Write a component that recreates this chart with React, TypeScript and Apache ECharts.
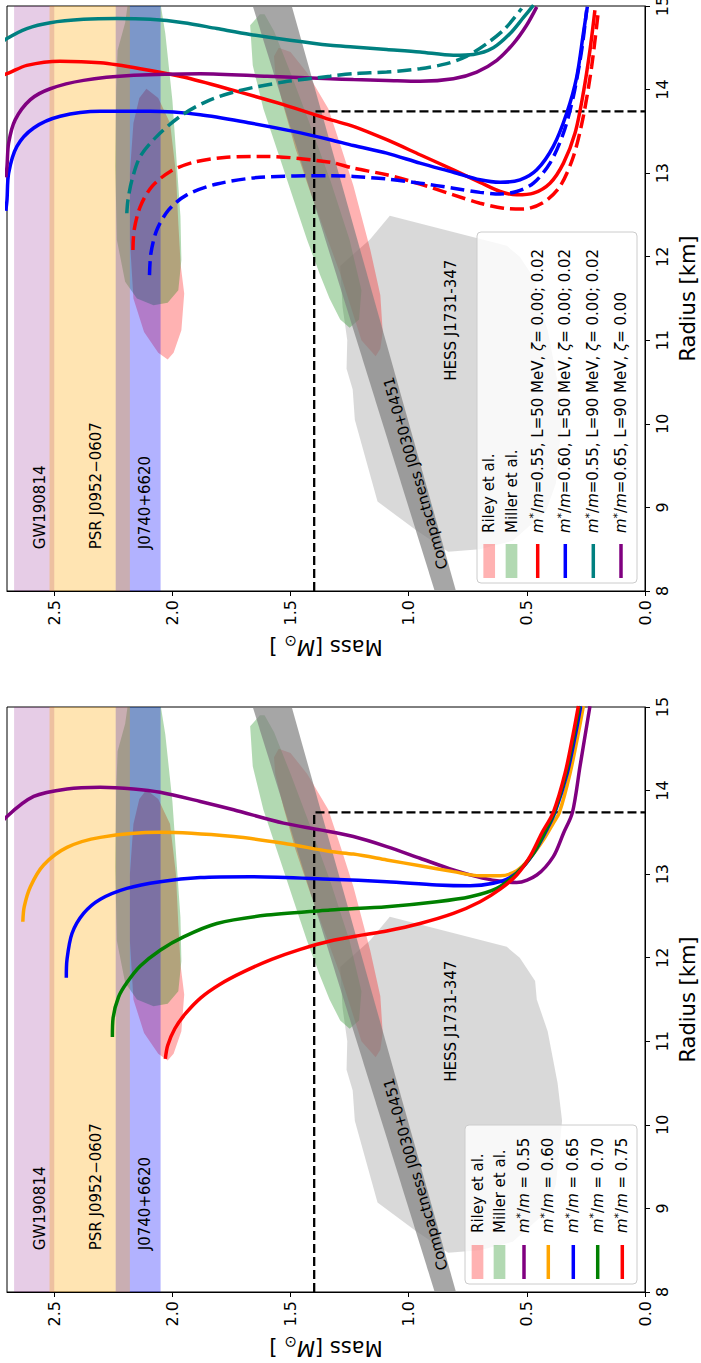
import { useEffect, useRef } from 'react';
import * as echarts from 'echarts';

const FONT = 'DejaVu Sans';

// ---------- data: every pair is [mass (M_sun), radius (km)] ----------

const massRange = [0, 2.7];
const radiusRange = [8, 15];

// Observational mass bands (M_sun)
const bandGW190814 = [2.5, 2.67];
const bandJ0952 = [2.18, 2.52];
const bandJ0740 = [2.05, 2.24];

// Compactness band of PSR J0030+0451
const compactnessJ0030 = [[0.8, 8], [1.495, 15], [1.66, 15], [0.89, 8]];

// HESS J1731-347 credible region
const hessJ1731 = [
  [1.08, 12.49], [0.585, 12.13], [0.53, 12.0], [0.465, 11.72], [0.458, 11.5], [0.412, 11.12],
  [0.37, 10.5], [0.351, 10.05], [0.377, 9.29], [0.42, 8.95], [0.56, 8.6], [0.7, 8.5],
  [0.833, 8.47], [0.974, 8.74], [1.132, 9.07], [1.228, 10.05], [1.237, 10.41], [1.263, 10.66],
  [1.26, 11.0], [1.28, 11.4], [1.29, 11.89], [1.163, 12.21],
];

// NICER contours, PSR J0030+0451
const rileyJ0030 = [
  [1.14, 10.81], [1.2, 11.0], [1.245, 11.4], [1.29, 11.8], [1.355, 12.3], [1.42, 12.8],
  [1.48, 13.3], [1.53, 13.8], [1.565, 14.2], [1.57, 14.4], [1.55, 14.5], [1.5, 14.45],
  [1.43, 14.2], [1.34, 13.77], [1.285, 13.3], [1.234, 12.85], [1.163, 12.09], [1.12, 11.54],
  [1.11, 11.1], [1.12, 10.9],
];
const millerJ0030 = [
  [1.63, 14.9], [1.671, 14.77], [1.66, 14.29], [1.615, 13.77], [1.544, 13.17], [1.488, 12.69],
  [1.431, 12.21], [1.375, 11.78], [1.335, 11.5], [1.29, 11.25], [1.25, 11.15], [1.21, 11.25],
  [1.2, 11.6], [1.25, 12.2], [1.33, 12.9], [1.42, 13.6], [1.5, 14.2], [1.57, 14.7], [1.61, 14.9],
];

// NICER contours, PSR J0740+6620
const rileyJ0740 = [
  [2.11, 14.01], [2.06, 13.9], [2.01, 13.6], [1.985, 13.0], [1.975, 12.4], [1.965, 11.9],
  [1.95, 11.56], [1.962, 11.12], [1.995, 10.85], [2.02, 10.77], [2.06, 10.85], [2.12, 11.1],
  [2.165, 11.5], [2.18, 12.2], [2.18, 13.0], [2.165, 13.6], [2.14, 13.9],
];
const millerJ0740 = [
  [2.06, 15.2], [2.03, 14.67], [2.0, 13.87], [1.966, 12.48], [1.962, 11.96], [1.975, 11.6],
  [2.02, 11.45], [2.08, 11.42], [2.15, 11.5], [2.2, 11.7], [2.235, 12.2], [2.242, 13.08],
  [2.238, 14.0], [2.232, 14.47], [2.2, 14.8], [2.18, 15.2],
];

// Reference lines: M = 1.4 M_sun and R = 13.74 km
const refLines = [[1.4, 8], [1.4, 13.74], [0, 13.74]];

// Upper panel: L and zeta variations
const l50m055z000 = [
  [2.78, 14.12], [2.7, 14.19], [2.616, 14.29], [2.475, 14.34], [2.305, 14.32], [2.136, 14.25],
  [1.953, 14.15], [1.741, 13.99], [1.53, 13.82], [1.332, 13.64], [1.234, 13.56], [1.093, 13.4],
  [0.952, 13.22], [0.811, 13.04], [0.698, 12.89], [0.613, 12.78], [0.543, 12.74], [0.472, 12.76],
  [0.402, 12.88], [0.345, 13.12], [0.296, 13.48], [0.261, 13.96], [0.233, 14.47], [0.212, 14.95],
];
const l50m055z002 = [
  [2.167, 12.08], [2.162, 12.32], [2.136, 12.6], [2.087, 12.84], [2.009, 13.02], [1.911, 13.13],
  [1.77, 13.19], [1.6, 13.2], [1.332, 13.13], [1.234, 13.06], [1.093, 12.98], [0.952, 12.87],
  [0.811, 12.74], [0.698, 12.64], [0.599, 12.58], [0.515, 12.57], [0.43, 12.65], [0.36, 12.84],
  [0.303, 13.2], [0.261, 13.68], [0.226, 14.27], [0.197, 14.95],
];
const l50m060z000 = [
  [2.705, 12.55], [2.7, 12.68], [2.693, 13.0], [2.658, 13.32], [2.587, 13.54], [2.475, 13.68],
  [2.305, 13.74], [2.094, 13.74], [1.882, 13.7], [1.671, 13.6], [1.488, 13.5], [1.332, 13.4],
  [1.234, 13.33], [1.093, 13.24], [0.952, 13.12], [0.811, 13.01], [0.698, 12.92], [0.613, 12.89],
  [0.529, 12.92], [0.458, 13.04], [0.388, 13.32], [0.331, 13.72], [0.289, 14.15], [0.261, 14.67],
  [0.244, 14.99],
];
const l50m060z002 = [
  [2.097, 11.78], [2.091, 12.04], [2.066, 12.32], [2.016, 12.56], [1.939, 12.74], [1.812, 12.87],
  [1.629, 12.95], [1.332, 12.97], [1.234, 12.96], [1.093, 12.93], [0.952, 12.88], [0.811, 12.82],
  [0.698, 12.77], [0.613, 12.75], [0.543, 12.78], [0.472, 12.88], [0.402, 13.12], [0.345, 13.48],
  [0.303, 13.92], [0.268, 14.47], [0.247, 14.95],
];
const l90m055z000 = [
  [2.78, 14.45], [2.7, 14.61], [2.616, 14.73], [2.517, 14.8], [2.376, 14.84], [2.235, 14.85],
  [2.094, 14.84], [1.953, 14.8], [1.812, 14.73], [1.671, 14.66], [1.502, 14.59], [1.332, 14.53],
  [1.234, 14.51], [1.093, 14.48], [0.952, 14.45], [0.811, 14.41], [0.726, 14.42], [0.642, 14.5],
  [0.571, 14.67], [0.515, 14.86], [0.472, 15.01],
];
const l90m055z002 = [
  [2.193, 12.52], [2.188, 12.68], [2.171, 12.92], [2.136, 13.2], [2.066, 13.44], [1.967, 13.68],
  [1.854, 13.86], [1.713, 13.99], [1.53, 14.09], [1.332, 14.16], [1.234, 14.19], [1.093, 14.21],
  [0.952, 14.25], [0.839, 14.31], [0.754, 14.4], [0.67, 14.55], [0.592, 14.73], [0.522, 14.97],
];
const l90m065z000 = [
  [2.705, 12.95], [2.7, 13.08], [2.693, 13.36], [2.665, 13.64], [2.601, 13.88], [2.517, 14.01],
  [2.376, 14.11], [2.164, 14.17], [1.882, 14.19], [1.6, 14.16], [1.332, 14.13], [1.234, 14.12],
  [1.093, 14.11], [0.952, 14.1], [0.811, 14.13], [0.712, 14.21], [0.627, 14.35], [0.557, 14.55],
  [0.501, 14.77], [0.458, 14.99],
];

// Lower panel: effective mass variations
const effMass055 = [
  [2.78, 13.42], [2.7, 13.69], [2.587, 13.93], [2.446, 14.02], [2.305, 14.04], [2.164, 14.02],
  [2.052, 13.98], [1.882, 13.87], [1.741, 13.77], [1.53, 13.61], [1.375, 13.53], [1.234, 13.45],
  [1.093, 13.33], [0.952, 13.19], [0.811, 13.05], [0.712, 12.97], [0.627, 12.92], [0.543, 12.9],
  [0.458, 12.99], [0.388, 13.21], [0.345, 13.49], [0.307, 13.74], [0.275, 14.29], [0.247, 14.77],
  [0.233, 15.01],
];
const effMass060 = [
  [2.633, 12.43], [2.627, 12.61], [2.601, 12.85], [2.545, 13.11], [2.446, 13.32], [2.305, 13.44],
  [2.052, 13.5], [1.741, 13.45], [1.53, 13.37], [1.332, 13.27], [1.234, 13.24], [1.093, 13.17],
  [0.952, 13.1], [0.811, 13.03], [0.698, 12.98], [0.613, 12.98], [0.543, 13.04], [0.487, 13.19],
  [0.43, 13.41], [0.388, 13.61], [0.362, 13.74], [0.317, 14.21], [0.282, 14.69], [0.261, 15.01],
];
const effMass065 = [
  [2.449, 11.76], [2.446, 11.98], [2.425, 12.29], [2.376, 12.53], [2.305, 12.7], [2.193, 12.83],
  [2.052, 12.91], [1.882, 12.96], [1.671, 12.97], [1.332, 12.94], [1.093, 12.91], [0.881, 12.87],
  [0.74, 12.86], [0.642, 12.89], [0.571, 12.96], [0.515, 13.09], [0.458, 13.31], [0.416, 13.53],
  [0.381, 13.74], [0.329, 14.21], [0.293, 14.69], [0.272, 15.01],
];
const effMass070 = [
  [2.254, 11.05], [2.251, 11.28], [2.228, 11.53], [2.193, 11.7], [2.136, 11.9], [2.052, 12.09],
  [1.953, 12.25], [1.812, 12.41], [1.6, 12.51], [1.332, 12.57], [1.093, 12.61], [0.881, 12.67],
  [0.74, 12.73], [0.627, 12.83], [0.543, 13.01], [0.472, 13.25], [0.423, 13.51], [0.384, 13.74],
  [0.334, 14.21], [0.299, 14.69], [0.278, 15.01],
];
const effMass075 = [
  [2.03, 10.79], [2.02, 10.95], [1.99, 11.15], [1.945, 11.33], [1.88, 11.52], [1.8, 11.68],
  [1.7, 11.83], [1.58, 11.98], [1.459, 12.1], [1.332, 12.2], [1.2, 12.27], [1.093, 12.32],
  [0.952, 12.41], [0.811, 12.53], [0.698, 12.67], [0.613, 12.82], [0.543, 12.99], [0.487, 13.21],
  [0.437, 13.49], [0.388, 13.74], [0.338, 14.21], [0.303, 14.69], [0.282, 15.01],
];

// Annotations: text with its [mass, radius] anchor
const bandLabelTexts = ['GW190814', 'PSR J0952\u22120607', 'J0740+6620'];
const bandLabelAnchors = [[2.561, 8.5], [2.325, 8.5], [2.114, 8.5]];
const hessLabelText = 'HESS J1731-347';
const hessLabelAnchor = [0.82, 11.24];
const compactLabelText = 'Compactness J0030+0451';
const compactLabelAnchor = [0.97, 9.41];

// Legend texts
const legendUpperTexts = [
  '{t|Riley et al.}',
  '{t|Miller et al.}',
  '{it|m}{sup|*}{t|/}{it|m}{t|=0.55, L=50 MeV, }{it|\u03b6}{t|= 0.00; 0.02}',
  '{it|m}{sup|*}{t|/}{it|m}{t|=0.60, L=50 MeV, }{it|\u03b6}{t|= 0.00; 0.02}',
  '{it|m}{sup|*}{t|/}{it|m}{t|=0.55, L=90 MeV, }{it|\u03b6}{t|= 0.00; 0.02}',
  '{it|m}{sup|*}{t|/}{it|m}{t|=0.65, L=90 MeV, }{it|\u03b6}{t|= 0.00}',
];
const legendLowerTexts = [
  '{t|Riley et al.}',
  '{t|Miller et al.}',
  '{it|m}{sup|*}{t|/}{it|m}{t| = 0.55}',
  '{it|m}{sup|*}{t|/}{it|m}{t| = 0.60}',
  '{it|m}{sup|*}{t|/}{it|m}{t| = 0.65}',
  '{it|m}{sup|*}{t|/}{it|m}{t| = 0.70}',
  '{it|m}{sup|*}{t|/}{it|m}{t| = 0.75}',
];

// ---------- styling ----------

const RILEY = 'rgba(255,0,0,0.3)';
const MILLER = 'rgba(0,128,0,0.3)';
const C = {
  red: '#ff0000', blue: '#0000ff', teal: '#008080', purple: '#800080', orange: '#ffa500', green: '#008000',
};

const upperCurves = [
  { data: l50m055z000, color: C.red, dashed: false },
  { data: l50m060z000, color: C.blue, dashed: false },
  { data: l90m055z000, color: C.teal, dashed: false },
  { data: l90m065z000, color: C.purple, dashed: false },
  { data: l50m055z002, color: C.red, dashed: true },
  { data: l50m060z002, color: C.blue, dashed: true },
  { data: l90m055z002, color: C.teal, dashed: true },
];
const lowerCurves = [
  { data: effMass055, color: C.purple, dashed: false },
  { data: effMass060, color: C.orange, dashed: false },
  { data: effMass065, color: C.blue, dashed: false },
  { data: effMass070, color: C.green, dashed: false },
  { data: effMass075, color: C.red, dashed: false },
];

const legendUpperHandles = [
  { patch: true, color: RILEY }, { patch: true, color: MILLER },
  { patch: false, color: C.red }, { patch: false, color: C.blue },
  { patch: false, color: C.teal }, { patch: false, color: C.purple },
];
const legendLowerHandles = [
  { patch: true, color: RILEY }, { patch: true, color: MILLER },
  { patch: false, color: C.purple }, { patch: false, color: C.orange },
  { patch: false, color: C.blue }, { patch: false, color: C.green },
  { patch: false, color: C.red },
];

const GRIDS = [
  { left: 7, right: 56, top: 6, height: 585 },
  { left: 7, right: 56, top: 707, height: 585 },
];

const LABEL_SIZE = 15;
const TICK_SIZE = 16;
const NAME_SIZE = 21;

const cssFont = (size: number, italic = false) => `${italic ? 'italic ' : ''}${size}px "${FONT}"`;

const tok = (size: number, extra: any = {}) => ({
  fontSize: size, fontFamily: FONT, color: '#000', ...extra,
});

const gtok = (size: number, italic: boolean, extra: any = {}) => ({
  font: cssFont(size, italic), fontSize: size, fontFamily: FONT,
  fontStyle: italic ? 'italic' : 'normal', fill: '#000', ...extra,
});
const legendRich = {
  t: gtok(LABEL_SIZE, false, { lineHeight: 19 }),
  it: gtok(LABEL_SIZE, true, { lineHeight: 19 }),
  sup: gtok(11, false, { verticalAlign: 'top' }),
};

function polygonSeries(gi: number, pts: number[][], fill: string) {
  return {
    type: 'custom',
    xAxisIndex: gi,
    yAxisIndex: gi,
    silent: true,
    clip: true,
    data: [[1, 10]],
    renderItem: (_params: any, api: any) => ({
      type: 'polygon',
      shape: { points: pts.map((p) => api.coord(p)) },
      style: { fill, stroke: null },
    }),
  };
}

function bandSeries(gi: number, range: number[], fill: string) {
  const pts = [
    [range[0], radiusRange[0]], [range[1], radiusRange[0]],
    [range[1], radiusRange[1]], [range[0], radiusRange[1]],
  ];
  return polygonSeries(gi, pts, fill);
}

function curveSeries(gi: number, c: { data: number[][]; color: string; dashed: boolean }) {
  return {
    type: 'line',
    xAxisIndex: gi,
    yAxisIndex: gi,
    data: c.data,
    symbol: 'none',
    showSymbol: false,
    smooth: 0.3,
    clip: true,
    silent: true,
    lineStyle: { color: c.color, width: 3.5, type: c.dashed ? [14, 6] : 'solid', cap: 'butt' },
  };
}

function panelSeries(gi: number, curves: any[]) {
  return [
    polygonSeries(gi, hessJ1731, 'rgba(128,128,128,0.3)'),
    polygonSeries(gi, rileyJ0030, RILEY),
    polygonSeries(gi, rileyJ0740, RILEY),
    polygonSeries(gi, millerJ0030, MILLER),
    polygonSeries(gi, millerJ0740, MILLER),
    bandSeries(gi, bandJ0740, 'rgba(0,0,255,0.3)'),
    bandSeries(gi, bandGW190814, 'rgba(128,0,128,0.2)'),
    bandSeries(gi, bandJ0952, 'rgba(255,165,0,0.3)'),
    polygonSeries(gi, compactnessJ0030, 'rgba(128,128,128,0.7)'),
    {
      type: 'line', xAxisIndex: gi, yAxisIndex: gi, data: refLines, symbol: 'none', silent: true, clip: true,
      lineStyle: { color: '#000', width: 2.3, type: [9, 4] },
    },
    ...curves.map((c) => curveSeries(gi, c)),
  ];
}

function massAxis(gi: number) {
  return {
    type: 'value', gridIndex: gi, min: massRange[0], max: massRange[1], interval: 0.5, inverse: true,
    position: 'bottom',
    axisLine: { show: true, onZero: false, lineStyle: { color: '#000', width: 1 } },
    axisTick: { show: true, length: 5, lineStyle: { color: '#000', width: 1 } },
    axisLabel: {
      show: true, rotate: 90, margin: 9, fontSize: TICK_SIZE, fontFamily: FONT, color: '#000',
      showMaxLabel: false, formatter: (v: number) => v.toFixed(1),
    },
    splitLine: { show: false },
    name: '{t|Mass [}{it|M}{sub|\u2299}{t| ]}',
    nameLocation: 'middle', nameGap: 42, nameRotate: 180,
    nameTextStyle: {
      fontFamily: FONT, color: '#000', fontSize: NAME_SIZE,
      rich: {
        t: tok(NAME_SIZE, { lineHeight: 28 }),
        it: tok(NAME_SIZE, { fontStyle: 'italic', lineHeight: 28 }),
        sub: tok(15, { verticalAlign: 'bottom' }),
      },
    },
  };
}

function radiusAxis(gi: number) {
  return {
    type: 'value', gridIndex: gi, min: radiusRange[0], max: radiusRange[1], interval: 1, position: 'right',
    axisLine: { show: true, onZero: false, lineStyle: { color: '#000', width: 1 } },
    axisTick: { show: true, length: 5, lineStyle: { color: '#000', width: 1 } },
    axisLabel: { show: true, rotate: 90, margin: 9, fontSize: TICK_SIZE, fontFamily: FONT, color: '#000' },
    splitLine: { show: false },
    name: 'Radius [km]', nameLocation: 'middle', nameGap: 32, nameRotate: 90,
    nameTextStyle: { fontFamily: FONT, color: '#000', fontSize: NAME_SIZE },
  };
}

function legendGraphic(
  box: { x: number; y: number; w: number; h: number },
  rowX: number[], handleY: number[], textY: number,
  handles: { patch: boolean; color: string }[], texts: string[],
) {
  const els: any[] = [{
    type: 'rect', z: 100,
    shape: { x: box.x, y: box.y, width: box.w, height: box.h, r: 4 },
    style: { fill: 'rgba(255,255,255,0.8)', stroke: '#cccccc', lineWidth: 1 },
  }];
  handles.forEach((h, i) => {
    const w = h.patch ? 11.7 : 3.5;
    els.push({
      type: 'rect', z: 101,
      shape: { x: rowX[i] - w / 2, y: handleY[0], width: w, height: handleY[1] - handleY[0] },
      style: { fill: h.color },
    });
    els.push({
      type: 'text', z: 101, x: rowX[i], y: textY, rotation: Math.PI / 2,
      style: {
        text: texts[i], rich: legendRich, font: cssFont(LABEL_SIZE), fill: '#000',
        textAlign: 'left', textVerticalAlign: 'middle',
      },
    });
  });
  return els;
}

// Annotation texts placed at data coordinates through the grid's own scales
function annotationGraphic(chart: any, gi: number) {
  const items = [
    ...bandLabelTexts.map((t, i) => ({ text: t, at: bandLabelAnchors[i], rot: 90, align: 'left' })),
    { text: hessLabelText, at: hessLabelAnchor, rot: 90, align: 'center' },
    { text: compactLabelText, at: compactLabelAnchor, rot: 106, align: 'center' },
  ];
  return items.map((it) => {
    const [x, y] = chart.convertToPixel({ gridIndex: gi }, it.at);
    return {
      type: 'text', z: 50, x, y, rotation: (it.rot * Math.PI) / 180, silent: true,
      style: { text: it.text, font: cssFont(LABEL_SIZE), fill: '#000', textAlign: it.align, textVerticalAlign: 'middle' },
    };
  });
}

function buildOption() {
  return {
    animation: false,
    textStyle: { fontFamily: FONT },
    grid: GRIDS.map((g) => ({
      ...g, show: true, borderColor: '#000', borderWidth: 1, backgroundColor: 'transparent',
      containLabel: false, outerBoundsMode: 'none',
    })),
    xAxis: [massAxis(0), massAxis(1)],
    yAxis: [radiusAxis(0), radiusAxis(1)],
    series: [...panelSeries(0, upperCurves), ...panelSeries(1, lowerCurves)],
  };
}

function legendAll() {
  return [
    ...legendGraphic({ x: 477, y: 232, w: 160, h: 351 },
      [489.2, 511.5, 537.7, 565.3, 593.3, 621], [544, 578], 533,
      legendUpperHandles, legendUpperTexts),
    ...legendGraphic({ x: 465, y: 1125, w: 172, h: 159 },
      [477.5, 499.5, 524, 548.3, 573.3, 597.7, 622.3], [1245, 1279], 1233,
      legendLowerHandles, legendLowerTexts),
  ];
}

export default function App() {
  const ref = useRef<HTMLDivElement | null>(null);
  useEffect(() => {
    if (!ref.current) return;
    const chart = echarts.init(ref.current, null, { renderer: 'svg' });
    chart.setOption(buildOption() as any);
    chart.setOption({
      graphic: [...annotationGraphic(chart, 0), ...annotationGraphic(chart, 1), ...legendAll()],
    } as any);
    return () => {
      chart.dispose();
    };
  }, []);
  return (
    <div
      ref={ref}
      style={{ position: 'absolute', left: 0, top: 0, width: 701, height: 1363, background: '#fff' }}
    />
  );
}
